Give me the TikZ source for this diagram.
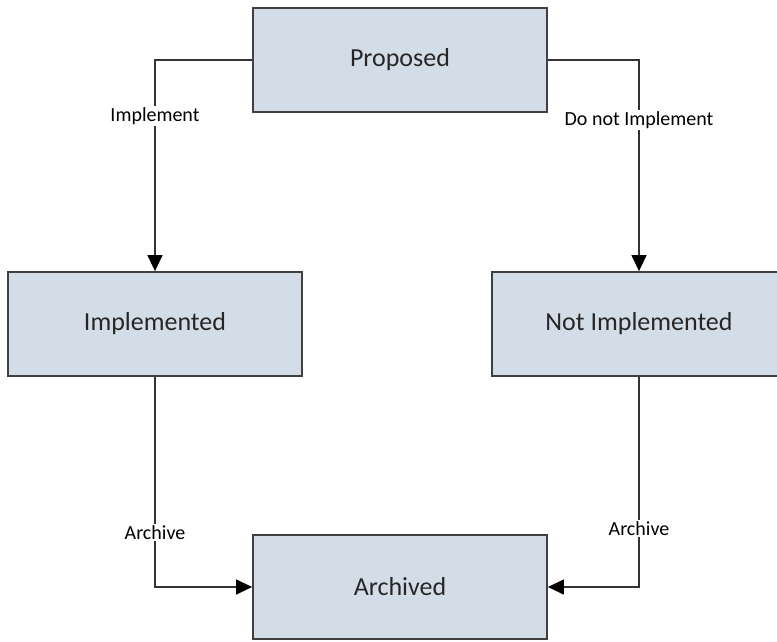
\documentclass[tikz,border=0pt]{standalone}
\usepackage{fontspec}
\setmainfont{Carlito}
\usetikzlibrary{arrows.meta}
\definecolor{boxfill}{HTML}{D3DDE8}
\definecolor{boxline}{HTML}{404040}
\definecolor{conn}{HTML}{333333}
\tikzset{
  state/.style={draw=boxline, line width=1.8pt, fill=boxfill, minimum width=294pt, minimum height=104pt, inner sep=0pt, font=\fontsize{26}{30}\selectfont, text=black!85},
  flow/.style={draw=conn, line width=1.4pt, -{Triangle[width=15pt,length=16pt,fill=black,color=black]}},
  lbl/.style={fill=white, inner sep=1.5pt, font=\fontsize{20}{24}\selectfont, text=black}
}
\begin{document}
\begin{tikzpicture}[x=1pt,y=-1pt]
\useasboundingbox (0,0) rectangle (777,641);
\begin{scope}
\clip (0,0) rectangle (777,641);
\node[state] (prop) at (400,60) {Proposed};
\node[state] (impl) at (155,324) {Implemented};
\node[state] (nimp) at (639,324) {Not Implemented};
\node[state] (arch) at (400,587) {Archived};
\end{scope}
\draw[flow] (prop.west) -| node[lbl, pos=0.632] {Implement} (impl.north);
\draw[flow] (prop.east) -| node[lbl, pos=0.642] {Do not Implement} (nimp.north);
\draw[flow] (impl.south) |- node[lbl, pos=0.37] {Archive} (arch.west);
\draw[flow] (nimp.south) |- node[lbl, pos=0.36] {Archive} (arch.east);
\end{tikzpicture}
\end{document}
